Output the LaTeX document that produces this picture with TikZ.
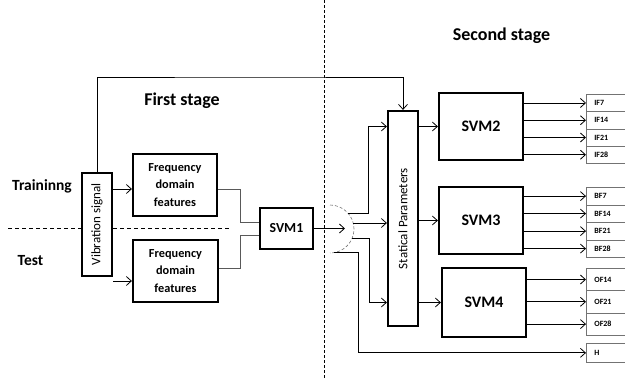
\documentclass[tikz,border=0pt]{standalone}
\usepackage{fontspec}
\setmainfont{Carlito}
\usetikzlibrary{positioning,arrows.meta}
\tikzset{
  box/.style={rectangle, draw, line width=2.2pt, fill=white, inner sep=2pt, align=center},
  outbox/.style={rectangle, draw=black!55, line width=0.7pt, anchor=north west,
                 minimum width=60, text width=44pt, inner xsep=8pt, inner ysep=0pt,
                 align=left, font=\bfseries\fontsize{8}{9}\selectfont},
  arr/.style={-{Straight Barb[length=5pt,width=9pt]}, line width=0.8pt},
  conn/.style={draw=black!65, line width=0.7pt},
  stagelabel/.style={font=\bfseries\fontsize{18}{20}\selectfont},
  splitter/.style={dashed, draw=black!55, line width=0.6pt, dash pattern=on 3pt off 2pt},
}
\begin{document}
\begin{tikzpicture}[x=1pt,y=-1pt]
  \useasboundingbox (0,0) rectangle (625,378);

  % stage labels and separators
  \node[stagelabel] (second) at (501.5,36) {Second stage};
  \node[stagelabel] (first) at (182,101) {First stage};
  \node[stagelabel, font=\bfseries\fontsize{15.5}{18}\selectfont] (train) at (42,186) {Traininng};
  \node[stagelabel, font=\bfseries\fontsize{15.5}{18}\selectfont] (test) at (30.5,261) {Test};
  \draw[line width=0.6pt, dash pattern=on 3pt off 2pt] (324,0) -- (324,378);
  \draw[line width=0.6pt, dash pattern=on 4pt off 3pt] (8,228) -- (230,228);

  % first stage
  \node[box, minimum width=30, minimum height=103] (vib) at (97,224.5) {};
  \node[rotate=90, font=\fontsize{13}{15}\selectfont] at (vib.center) {Vibration signal};
  \node[box, minimum width=84, minimum height=62, font=\bfseries\fontsize{12.3}{17.5}\selectfont] (ff1) at (175,185) {Frequency\\domain\\features};
  \node[box, minimum width=85, minimum height=62, font=\bfseries\fontsize{12.3}{17.5}\selectfont] (ff2) at (175.5,271) {Frequency\\domain\\features};
  \node[box, minimum width=53, minimum height=41, font=\bfseries\fontsize{13.8}{16}\selectfont] (svm1) at (286.5,228.5) {SVM1};

  \coordinate (ff1in) at ([yshift=-4pt]ff1.west);
  \coordinate (ff2in) at ([yshift=-10pt]ff2.west);
  \draw[arr] (vib.east |- ff1in) -- (ff1in);
  \draw[arr] (vib.east |- ff2in) -- (ff2in);
  \draw[conn] ([yshift=-4pt]ff1.east) -- ++(22,0) |- ([yshift=6.5pt]svm1.west);
  \draw[conn] ([yshift=3pt]ff2.east) -- ++(21,0) |- ([yshift=-6.5pt]svm1.west);

  % second stage
  \node[box, minimum width=30, minimum height=215] (stat) at (403,218.5) {};
  \node[rotate=90, font=\fontsize{13}{15}\selectfont] at (stat.center) {Statical Parameters};
  \node[box, minimum width=84, minimum height=67, font=\bfseries\fontsize{16}{18}\selectfont] (svm2) at (481,126.5) {SVM2};
  \node[box, minimum width=84, minimum height=67, font=\bfseries\fontsize{16}{18}\selectfont] (svm3) at (481,220.5) {SVM3};
  \node[box, minimum width=84, minimum height=69, font=\bfseries\fontsize{16}{18}\selectfont] (svm4) at (484,302.5) {SVM4};

  \coordinate (fbk) at (250,77);
  \draw[arr] (vib.north) |- (fbk) -| (stat.north);

  % splitter after SVM1
  \coordinate (hub) at (330,229);
  \coordinate (split) at (345,228.5);
  \draw[splitter] (hub) ++(0,-24) arc[start angle=-90, end angle=90, radius=24];
  \draw[arr] (svm1.east) -- (split);
  \coordinate (b1) at (348,213);
  \coordinate (b2) at (353,223);
  \coordinate (b3) at (352,238);
  \coordinate (b4) at (334,252);
  \coordinate (t1) at (368,213);
  \coordinate (t3) at (369,238);
  \coordinate (t4) at (358,252);
  \draw[arr] (b1) -- (t1) |- (stat.west |- svm2.west);
  \draw[arr] (b2) -- (stat.west |- b2);
  \draw[arr] (b3) -- (t3) |- (stat.west |- svm4.west);

  \draw[arr] (stat.east |- svm2.west) -- (svm2.west);
  \draw[arr] (stat.east |- svm3.west) -- (svm3.west);
  \draw[arr] (stat.east |- svm4.west) -- (svm4.west);

  % fault classes
  \begin{scope}
    \clip (0,0) rectangle (625,378);
    \foreach \lab [count=\i from 0] in {IF7,IF14,IF21,IF28} {
      \node[outbox, minimum height=17.25] (\lab) at (586,94+17.25*\i) {\lab};
      \draw[arr] (svm2.east |- \lab.west) -- (\lab.west);
    }
    \foreach \lab [count=\i from 0] in {BF7,BF14,BF21,BF28} {
      \node[outbox, minimum height=17.5] (\lab) at (586,187+17.5*\i) {\lab};
      \draw[arr] (svm3.east |- \lab.west) -- (\lab.west);
    }
    \foreach \lab [count=\i from 0] in {OF14,OF21,OF28} {
      \node[outbox, minimum height=22.3] (\lab) at (586,268+22.3*\i) {\lab};
      \draw[arr] (svm4.east |- \lab.west) -- (\lab.west);
    }
    \node[outbox, minimum height=19] (H) at (586,343) {H};
    \draw[arr] (b4) -- (t4) |- (H.west);
  \end{scope}
\end{tikzpicture}
\end{document}
